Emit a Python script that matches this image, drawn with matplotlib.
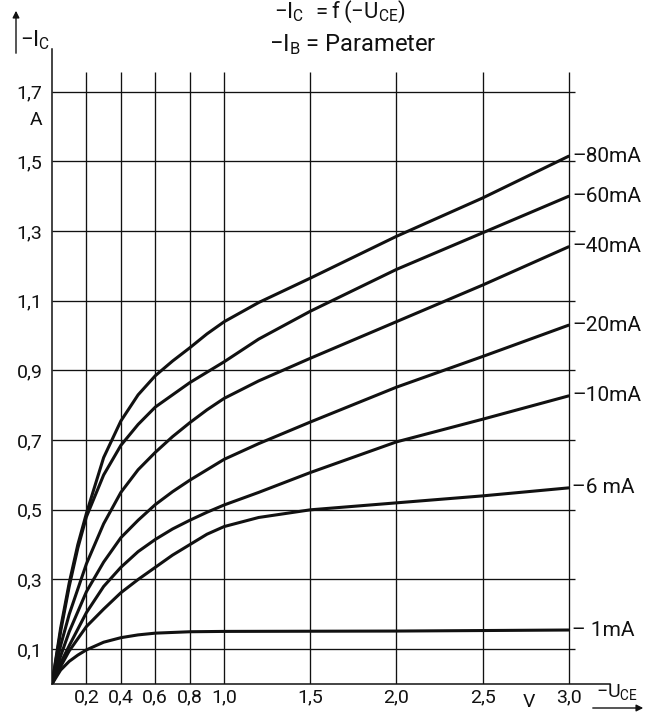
import matplotlib.pyplot as plt
from matplotlib.patches import FancyArrowPatch

plt.rcParams['font.family'] = ['Roboto', 'DejaVu Sans']
plt.rcParams['mathtext.default'] = 'regular'

# grid positions (V and A)
u_grid = [0.2, 0.4, 0.6, 0.8, 1.0, 1.5, 2.0, 2.5, 3.0]
u_labels = ['0,2', '0,4', '0,6', '0,8', '1,0', '1,5', '2,0', '2,5', '3,0']
i_grid = [0.1, 0.3, 0.5, 0.7, 0.9, 1.1, 1.3, 1.5, 1.7]
i_labels = ['0,1', '0,3', '0,5', '0,7', '0,9', '1,1', '1,3', '1,5', '1,7']

# -I_C over -U_CE for each base current
ib_labels = ['–80mA', '–60mA', '–40mA', '–20mA', '–10mA', '–6 mA', '– 1mA']
u_80 = [0, 0.05, 0.1, 0.15, 0.2, 0.3, 0.4, 0.5, 0.6, 0.7, 0.8, 0.9, 1.0, 1.2, 1.5, 2.0, 2.5, 3.0]
i_80 = [0, 0.16, 0.29, 0.40, 0.49, 0.65, 0.755, 0.83, 0.885, 0.927, 0.965, 1.005, 1.04, 1.095,
        1.165, 1.285, 1.395, 1.515]
u_60 = [0, 0.05, 0.1, 0.15, 0.2, 0.3, 0.4, 0.5, 0.6, 0.7, 0.8, 0.9, 1.0, 1.2, 1.5, 2.0, 2.5, 3.0]
i_60 = [0, 0.15, 0.28, 0.39, 0.48, 0.60, 0.685, 0.745, 0.795, 0.83, 0.865, 0.895, 0.925, 0.99,
        1.07, 1.19, 1.295, 1.40]
u_40 = [0, 0.05, 0.1, 0.2, 0.3, 0.4, 0.5, 0.6, 0.7, 0.8, 0.9, 1.0, 1.2, 1.5, 2.0, 2.5, 3.0]
i_40 = [0, 0.11, 0.20, 0.345, 0.46, 0.55, 0.615, 0.665, 0.71, 0.75, 0.787, 0.82, 0.87, 0.935,
        1.04, 1.145, 1.255]
u_20 = [0, 0.05, 0.1, 0.2, 0.3, 0.4, 0.5, 0.6, 0.7, 0.8, 0.9, 1.0, 1.2, 1.5, 2.0, 2.5, 3.0]
i_20 = [0, 0.08, 0.15, 0.265, 0.35, 0.42, 0.47, 0.515, 0.552, 0.585, 0.615, 0.645, 0.69, 0.752,
        0.852, 0.94, 1.03]
u_10 = [0, 0.05, 0.1, 0.2, 0.3, 0.4, 0.5, 0.6, 0.7, 0.8, 0.9, 1.0, 1.2, 1.5, 2.0, 2.5, 3.0]
i_10 = [0, 0.06, 0.11, 0.205, 0.28, 0.335, 0.38, 0.415, 0.445, 0.47, 0.493, 0.514, 0.55, 0.607,
        0.695, 0.76, 0.827]
u_6 = [0, 0.05, 0.1, 0.2, 0.3, 0.4, 0.5, 0.6, 0.7, 0.8, 0.9, 1.0, 1.2, 1.5, 2.0, 2.5, 3.0]
i_6 = [0, 0.05, 0.095, 0.165, 0.215, 0.262, 0.30, 0.335, 0.37, 0.40, 0.43, 0.452, 0.478, 0.50,
       0.52, 0.54, 0.563]
u_1 = [0, 0.05, 0.1, 0.15, 0.2, 0.3, 0.4, 0.5, 0.6, 0.8, 1.0, 2.0, 3.0]
i_1 = [0, 0.04, 0.065, 0.083, 0.098, 0.12, 0.133, 0.141, 0.146, 0.15, 0.151, 0.152, 0.155]

curves = [(u_80, i_80), (u_60, i_60), (u_40, i_40), (u_20, i_20),
          (u_10, i_10), (u_6, i_6), (u_1, i_1)]

ink = '#111111'
fig = plt.figure(figsize=(6.63, 7.14), dpi=100)
ax = fig.add_axes([0.0784, 0.042, 0.8416, 0.889])
ax.set_xlim(0, 3.24)
ax.set_ylim(0, 1.822)

for s in ['top', 'right']:
    ax.spines[s].set_visible(False)
for s in ['left', 'bottom']:
    ax.spines[s].set_linewidth(1.1)
    ax.spines[s].set_color(ink)

# grid
ax.vlines(u_grid, 0, 1.756, color=ink, lw=0.95)
ax.hlines(i_grid, 0, 3.035, color=ink, lw=0.95)

for (u, i) in curves:
    ax.plot(u, i, color=ink, lw=2.2, solid_capstyle='round', solid_joinstyle='round')

for (u, i), lab in zip(curves, ib_labels):
    ax.text(3.02, i[-1], lab, ha='left', va='center', fontsize=15, color=ink)

ax.set_xticks(u_grid)
ax.set_xticklabels(u_labels)
ax.set_yticks(i_grid)
ax.set_yticklabels(i_labels)
ax.tick_params(length=0, labelsize=14, colors=ink)
ax.tick_params(axis='x', pad=3)
ax.tick_params(axis='y', pad=7)

# units and axis names
ax.text(2.77, -0.025, 'V', ha='center', va='top', fontsize=14, color=ink)
ax.text(-0.095, 1.62, 'A', ha='center', va='center', fontsize=14, color=ink)
fig.text(596 / 663, 1 - 692 / 714, r'$-U_{CE}$', ha='left', va='center', fontsize=14, color=ink)
fig.text(20 / 663, 1 - 40 / 714, r'$-I_C$', ha='left', va='center', fontsize=16, color=ink)

fig.add_artist(FancyArrowPatch((590 / 663, 1 - 708 / 714), (646 / 663, 1 - 708 / 714),
                               transform=fig.transFigure, arrowstyle='-|>', mutation_scale=10,
                               color=ink, lw=1.0))
fig.add_artist(FancyArrowPatch((16 / 663, 1 - 56 / 714), (16 / 663, 1 - 8 / 714),
                               transform=fig.transFigure, arrowstyle='-|>', mutation_scale=10,
                               color=ink, lw=1.0))

fig.text(340 / 663, 1 - 12 / 714, r'$-I_C\ = f\,(-U_{CE})$', ha='center', va='center',
         fontsize=16, color=ink)
fig.text(353 / 663, 1 - 45 / 714, r'$-I_B$ = Parameter', ha='center', va='center',
         fontsize=17, color=ink)

fig.savefig('out.png', dpi=100)
